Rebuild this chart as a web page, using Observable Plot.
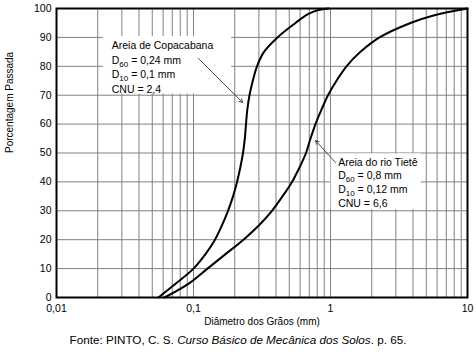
<!DOCTYPE html>
<html><head><meta charset="utf-8">
<script src="https://cdn.jsdelivr.net/npm/d3@7"></script>
<script src="https://cdn.jsdelivr.net/npm/@observablehq/plot@0.6"></script>
<style>
body{margin:0;background:#fff;font-family:"Liberation Sans",Arial,sans-serif}
#chart svg{display:block}
#cap{font-size:11.7px;text-align:center;width:476px;line-height:14px;margin-top:3px;color:#000}
</style></head><body><div id="chart"></div><div id="cap">Fonte: PINTO, C. S. <i>Curso Básico de Mecânica dos Solos</i>. p. 65.</div>
<script>
// Curva granulométrica – Areia de Copacabana (diâmetro mm, % passada)
const copaD = [0.0555, 0.0751, 0.1, 0.1223, 0.1435, 0.1614, 0.1786, 0.1943, 0.2078, 0.2196, 0.2298, 0.2369, 0.2417, 0.247, 0.2563, 0.2709, 0.2907, 0.3271, 0.4104, 0.5553, 0.6796, 0.817, 0.967];
const copaP = [0, 5, 10, 15, 20, 25, 30, 35, 40, 45, 50, 55, 60, 65, 70, 75, 80, 85, 90, 95, 98, 99.5, 100];
// Curva granulométrica – Areia do rio Tietê
const tieteD = [0.0614, 0.0935, 0.1265, 0.1712, 0.2317, 0.3008, 0.3741, 0.4463, 0.5236, 0.5938, 0.6625, 0.7145, 0.777, 0.8596, 0.9589, 1.1062, 1.3085, 1.6557, 2.2786, 3.8369, 5.6467, 10];
const tieteP = [0, 5, 10, 15, 20, 25, 30, 35, 40, 45, 50, 55, 60, 65, 70, 75, 80, 85, 90, 95, 97.6, 100];

const xTicks = [0.01, 0.1, 1, 10];
const yTicks = [0, 10, 20, 30, 40, 50, 60, 70, 80, 90, 100];
const xLabel = "Diâmetro dos Grãos (mm)";
const yLabel = "Porcentagem Passada";

// annotation text lines (x in mm, y in %)
const annotText = ["Areia de Copacabana", "D60 = 0,24 mm", "D10 = 0,1 mm", "CNU = 2,4",
                   "Areia do rio Tietê", "D60 = 0,8 mm", "D10 = 0,12 mm", "CNU = 6,6"];
const annotX = [0.0253, 0.0253, 0.0253, 0.0253, 1.138, 1.138, 1.138, 1.138];
const annotY = [87.0, 82.0, 77.2, 72.1, 46.5, 42.0, 37.4, 32.5];
// annotation boxes
const boxX1 = [0.022, 1.01], boxX2 = [0.19, 4.6], boxY1 = [70.4, 30.4], boxY2 = [90.3, 49.7];
// arrows
const arrX1 = [0.1088, 1.087], arrY1 = [82.7, 46.7], arrX2 = [0.228, 0.778], arrY2 = [67.5, 54.3];

const copa = copaD.map((d, i) => ({d, p: copaP[i]}));
const tiete = tieteD.map((d, i) => ({d, p: tieteP[i]}));
const annot = annotText.map((t, i) => ({t, x: annotX[i], y: annotY[i]}));
const boxes = boxX1.map((_, i) => ({x1: boxX1[i], x2: boxX2[i], y1: boxY1[i], y2: boxY2[i]}));
const arrows = arrX1.map((_, i) => ({x1: arrX1[i], y1: arrY1[i], x2: arrX2[i], y2: arrY2[i]}));
const xGrid = [-2, -1, 0].flatMap(e => [1,2,3,4,5,6,7,8,9].map(m => +(m * Math.pow(10, e)).toPrecision(3))).concat([10]);

const svg = Plot.plot({
  width: 476, height: 330,
  marginLeft: 56, marginRight: 9, marginTop: 8, marginBottom: 33,
  x: {type: "log", domain: [0.01, 10]},
  y: {domain: [0, 100]},
  style: {fontFamily: "'Liberation Sans', Arial, sans-serif", fontSize: "10.5px", background: "white", color: "black"},
  marks: [
    Plot.ruleX(xGrid, {stroke: "#808080", strokeWidth: 1}),
    Plot.ruleY(yTicks, {stroke: "#808080", strokeWidth: 1}),
    Plot.rect(boxes, {x1: "x1", x2: "x2", y1: "y1", y2: "y2", fill: "white"}),
    Plot.line(copa, {x: "d", y: "p", stroke: "black", strokeWidth: 2, curve: "catmull-rom"}),
    Plot.line(tiete, {x: "d", y: "p", stroke: "black", strokeWidth: 2, curve: "catmull-rom"}),
    Plot.arrow(arrows, {x1: "x1", y1: "y1", x2: "x2", y2: "y2", stroke: "#222", strokeWidth: 0.8, headLength: 7}),
    Plot.text(annot, {x: "x", y: "y", text: "t", textAnchor: "start", fontSize: 10.5, fill: "black"}),
    Plot.frame({stroke: "black", strokeWidth: 2}),
    Plot.axisX({ticks: xTicks, tickSize: 0, tickPadding: 7, tickFormat: d => String(d).replace(".", ","), label: null}),
    Plot.axisY({ticks: yTicks, tickSize: 0, tickPadding: 5, label: null}),
    Plot.text([xLabel], {text: d => d, frameAnchor: "bottom", dy: 27, fontSize: 10}),
    Plot.text([yLabel], {text: d => d, frameAnchor: "left", dx: -47, rotate: -90, fontSize: 10})
  ]
});

// subscripts for D60 / D10
d3.select(svg).selectAll("text").each(function() {
  if (this.querySelector("tspan")) return;
  const m = this.textContent.match(/^D(\d+)(.*)$/);
  if (!m) return;
  const s = d3.select(this);
  s.text("D");
  s.append("tspan").attr("font-size", "8px").attr("dy", "3").text(m[1]);
  s.append("tspan").attr("dy", "-3").text(m[2]);
});

document.getElementById("chart").append(svg);
</script></body></html>
